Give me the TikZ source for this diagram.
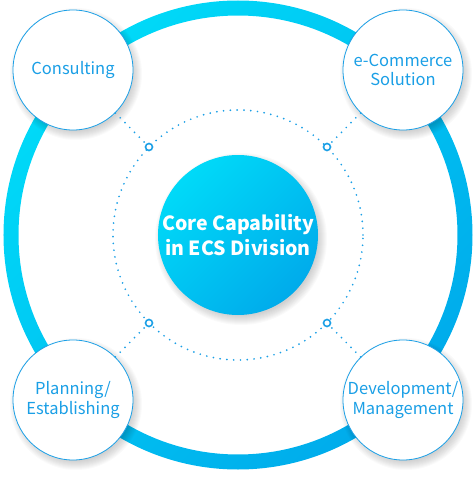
\documentclass[tikz,border=0pt]{standalone}
\usepackage{fontspec}
\setmainfont{Noto Sans CJK KR}
\usepackage{tikz}

\definecolor{ecscyan}{HTML}{00DAF8}
\definecolor{ecsblue}{HTML}{00ABEB}
\definecolor{ecstext}{HTML}{1A9FE6}

\tikzset{
	topic/.style={circle, draw=ecstext, line width=0.8pt, fill=white, minimum size=120pt, inner sep=0pt, align=center, text=ecstext, font=\fontsize{16.5}{19.5}\selectfont},
	core/.style={circle, minimum size=160pt, inner sep=0pt, align=center, text=white, font=\bfseries\fontsize{19.5}{25}\selectfont, top color=ecscyan, bottom color=ecsblue, shading angle=45},
	port/.style={circle, draw=ecstext, line width=1.6pt, fill=white, minimum size=7pt, inner sep=0pt},
	link/.style={ecstext, line width=1.9pt, dash pattern=on 0pt off 6.8pt, line cap=round},
}

% soft shadow under a circle: x, y, radius
\newcommand{\softshadow}[3]{
	\foreach \k in {0,...,9}
		\fill[black, opacity=0.018] (#1+3,#2-4) circle ({#3-3+\k});
}

\begin{document}
\begin{tikzpicture}[x=1pt,y=1pt]
	\useasboundingbox (-238,-242) rectangle (238,235);
	
	% outer ring
	\path[even odd rule, top color=ecscyan, bottom color=ecsblue, shading angle=45] (0,0) circle (234.5) (0,0) circle (219.5);
	
	% dotted inner circle
	\draw[link] (0,0) circle (125);
	
	\softshadow{0}{0}{80}
	\node[core] (core) at (0,0) {Core Capability\\in ECS Division};
	
	\node[port] (pc) at (-89,88) {};
	\node[port] (pe) at (89,88) {};
	\node[port] (pp) at (-89,-88) {};
	\node[port] (pd) at (89,-88) {};
	
	\softshadow{-165}{165}{60}
	\softshadow{165}{165}{60}
	\softshadow{-165}{-165}{60}
	\softshadow{165}{-165}{60}
	\node[topic] (consult) at (-165,165) {Consulting};
	\node[topic] (ecom) at (165,165) {e-Commerce\\Solution};
	\node[topic] (plan) at (-165,-165) {Planning/\\Establishing};
	\node[topic] (dev) at (165,-165) {Development/\\Management};
	
	\draw[link] (consult) -- (pc);
	\draw[link] (ecom) -- (pe);
	\draw[link] (plan) -- (pp);
	\draw[link] (dev) -- (pd);
\end{tikzpicture}
\end{document}
